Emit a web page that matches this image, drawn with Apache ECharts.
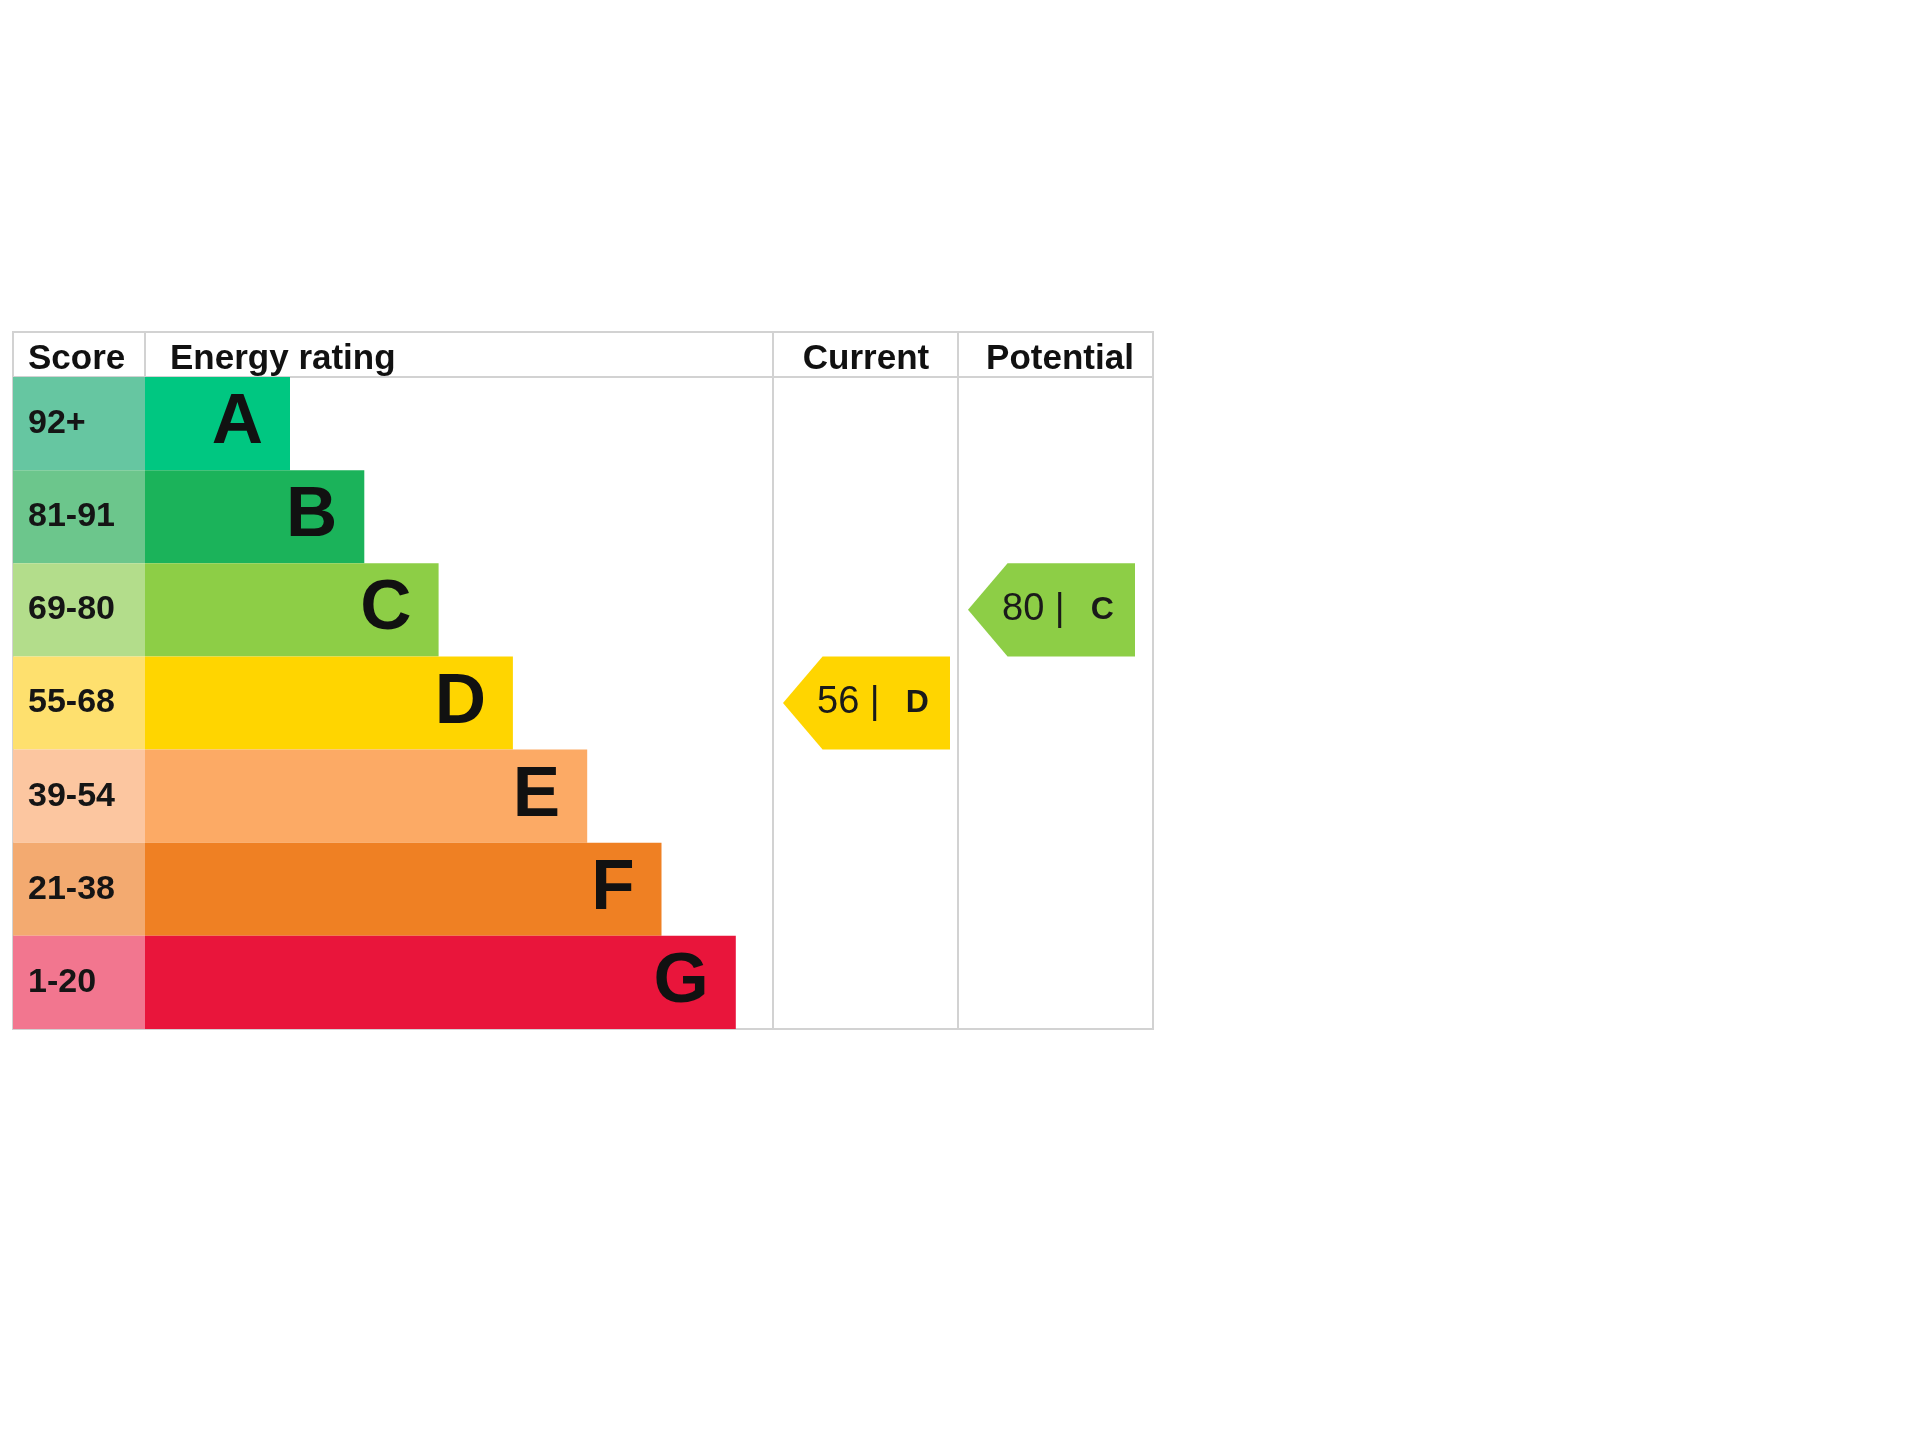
<!DOCTYPE html>
<html>
<head>
<meta charset="utf-8">
<style>html,body{margin:0;padding:0;background:#fff;}#c{width:1920px;height:1440px;}</style>
<script src="https://cdn.jsdelivr.net/npm/echarts@6/dist/echarts.min.js"></script>
</head>
<body>
<div id="c"></div>
<script>
// ---- data ----
const bands = ['A', 'B', 'C', 'D', 'E', 'F', 'G'];
const scoreRanges = ['92+', '81-91', '69-80', '55-68', '39-54', '21-38', '1-20'];
const bandMinScore = [92, 81, 69, 55, 39, 21, 1];
const headers = ['Score', 'Energy rating', 'Current', 'Potential'];
const currentScore = 56;
const potentialScore = 80;
const bandColors = ['#00c781', '#1bb35a', '#8dce46', '#ffd500', '#fcaa65', '#ef8023', '#e9153b'];
const scoreCellColors = ['#66c6a1', '#6cc68c', '#b3dd8b', '#fee06e', '#fcc6a0', '#f3aa70', '#f2768f'];

// ---- layout (px) ----
const T = { left: 13, top: 332, right: 1153, bottom: 1029, headerBottom: 377 };
const colScoreEnd = 145, colRatingEnd = 773, colCurrentEnd = 958;
const gridW = T.right - T.left;
const u = px => px - T.left; // px -> axis units
const scoreCellW = colScoreEnd - T.left;
const barBase = 145, barStep = 74.3;
const lineColor = '#d2d2d2';
const FONT = '"Liberation Sans", Arial, sans-serif';

function bandOf(score) {
  for (let i = 0; i < bandMinScore.length; i++) if (score >= bandMinScore[i]) return i;
  return bands.length - 1;
}

const arrows = [
  { score: currentScore, tip: u(783), right: u(950) },
  { score: potentialScore, tip: u(968), right: u(1135) }
];

const headerStyle = { font: 'bold 35px ' + FONT, fill: '#111', verticalAlign: 'middle' };

const chart = echarts.init(document.getElementById('c'), null, { renderer: 'canvas' });
chart.setOption({
  animation: false,
  backgroundColor: '#ffffff',
  grid: { left: T.left, top: T.headerBottom, width: gridW, height: T.bottom - T.headerBottom },
  xAxis: { type: 'value', min: 0, max: gridW, show: false },
  yAxis: { type: 'category', data: bands, inverse: true, show: false },
  graphic: [
    { type: 'rect', z: 0, shape: { x: T.left, y: T.top, width: gridW, height: T.bottom - T.top },
      style: { fill: 'none', stroke: lineColor, lineWidth: 2 } },
    { type: 'line', z: 0, shape: { x1: T.left, y1: T.headerBottom, x2: T.right, y2: T.headerBottom },
      style: { stroke: lineColor, lineWidth: 2 } },
    { type: 'line', z: 0, shape: { x1: colScoreEnd, y1: T.top, x2: colScoreEnd, y2: T.headerBottom },
      style: { stroke: lineColor, lineWidth: 2 } },
    { type: 'line', z: 0, shape: { x1: colRatingEnd, y1: T.top, x2: colRatingEnd, y2: T.bottom },
      style: { stroke: lineColor, lineWidth: 2 } },
    { type: 'line', z: 0, shape: { x1: colCurrentEnd, y1: T.top, x2: colCurrentEnd, y2: T.bottom },
      style: { stroke: lineColor, lineWidth: 2 } },
    { type: 'text', z: 10, x: 28, y: 359, style: Object.assign({ text: headers[0], align: 'left' }, headerStyle) },
    { type: 'text', z: 10, x: 170, y: 359, style: Object.assign({ text: headers[1], align: 'left' }, headerStyle) },
    { type: 'text', z: 10, x: 866, y: 359, style: Object.assign({ text: headers[2], align: 'center' }, headerStyle) },
    { type: 'text', z: 10, x: 1060, y: 359, style: Object.assign({ text: headers[3], align: 'center' }, headerStyle) }
  ],
  series: [
    {
      type: 'bar', stack: 'row', barWidth: '100%', barCategoryGap: 0,
      data: scoreRanges.map((s, i) => ({ value: scoreCellW, itemStyle: { color: scoreCellColors[i] } })),
      label: {
        show: true, position: 'insideLeft', distance: 15,
        formatter: p => scoreRanges[p.dataIndex],
        fontSize: 34, fontWeight: 'bold', fontFamily: FONT, color: '#151515'
      }
    },
    {
      type: 'bar', stack: 'row', barWidth: '100%', barCategoryGap: 0,
      data: bands.map((b, i) => ({ value: barBase + barStep * i, itemStyle: { color: bandColors[i] } })),
      label: {
        show: true, position: 'insideRight', distance: 27,
        formatter: p => bands[p.dataIndex],
        fontSize: 71, fontWeight: 'bold', fontFamily: FONT, color: '#111'
      }
    },
    {
      type: 'custom',
      data: arrows.map(a => [a.tip, a.right, bandOf(a.score), a.score]),
      renderItem: function (params, api) {
        const idx = api.value(2);
        const tipPt = api.coord([api.value(0), idx]);
        const rightPt = api.coord([api.value(1), idx]);
        const h = api.size([0, 1])[1];
        const half = h / 2;
        const neck = half * 0.85;
        const cy = tipPt[1];
        const x0 = tipPt[0], x1 = rightPt[0];
        const color = bandColors[idx];
        return {
          type: 'group',
          children: [
            { type: 'polygon', shape: { points: [[x0, cy], [x0 + neck, cy - half], [x1, cy - half], [x1, cy + half], [x0 + neck, cy + half]] },
              style: { fill: color } },
            { type: 'text', x: x0 + 34, y: cy, style: {
                text: '{n|' + api.value(3) + ' |  }{b|' + bands[idx] + '}',
                align: 'left', verticalAlign: 'middle',
                rich: {
                  n: { fontSize: 38, fontFamily: FONT, fill: '#1a1a1a', verticalAlign: 'middle' },
                  b: { fontSize: 32, fontWeight: 'bold', fontFamily: FONT, fill: '#1a1a1a', verticalAlign: 'middle', padding: [0, 0, 0, 5] }
                }
              } }
          ]
        };
      }
    }
  ]
});
</script>
</body>
</html>
